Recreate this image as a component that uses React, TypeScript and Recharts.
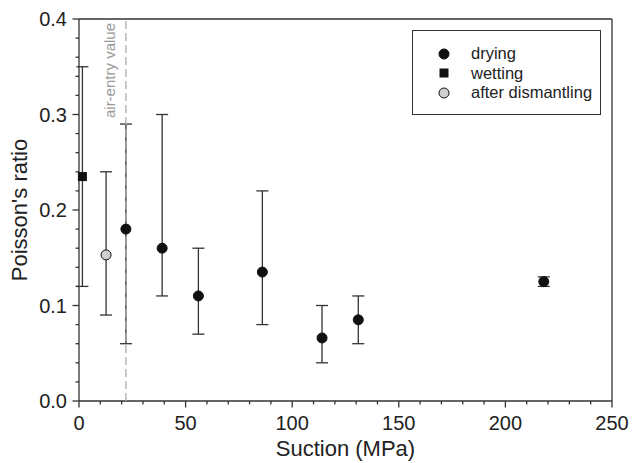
import React from 'react';
import {
  ScatterChart,
  Scatter,
  XAxis,
  YAxis,
  ErrorBar,
  ReferenceLine,
  Legend,
} from 'recharts';

const FONT = '"Liberation Sans", Arial, sans-serif';
const INK = '#222';
const AXIS = '#333';

// drying path
const dryingSuction = [22, 39, 56, 86, 114, 131, 218];
const dryingRatio = [0.18, 0.16, 0.11, 0.135, 0.066, 0.085, 0.125];
const dryingLow = [0.06, 0.11, 0.07, 0.08, 0.04, 0.06, 0.12];
const dryingHigh = [0.29, 0.3, 0.16, 0.22, 0.1, 0.11, 0.13];

// wetting
const wettingSuction = [1.6];
const wettingRatio = [0.235];
const wettingLow = [0.12];
const wettingHigh = [0.35];

// after dismantling
const dismantlingSuction = [12.7];
const dismantlingRatio = [0.153];
const dismantlingLow = [0.09];
const dismantlingHigh = [0.24];

// air-entry value marker (vertical dashed line)
const airEntrySuction = 22;
const airEntryRange = [0, 0.4];

const xTicks = Array.from({ length: 26 }, (_, i) => i * 10);
const yTicks = Array.from({ length: 21 }, (_, i) => i * 0.02);

const build = (xs: number[], ys: number[], lo: number[], hi: number[]) =>
  xs.map((x, i) => ({ x, y: ys[i], err: [ys[i] - lo[i], hi[i] - ys[i]] }));

const dryingData = build(dryingSuction, dryingRatio, dryingLow, dryingHigh);
const wettingData = build(wettingSuction, wettingRatio, wettingLow, wettingHigh);
const dismantlingData = build(dismantlingSuction, dismantlingRatio, dismantlingLow, dismantlingHigh);
const airEntryData = airEntryRange.map((y) => ({ x: airEntrySuction, y }));

// ticks every 10 / 0.02, labelled only on the majors
const XTick = (props: any) => {
  const { x, y, payload } = props;
  const major = Math.round(payload.value) % 50 === 0;
  return (
    <g>
      <line x1={x} x2={x} y1={y} y2={y + (major ? 6.5 : 3.5)} stroke={AXIS} strokeWidth={1.3} />
      {major && (
        <text x={x} y={y + 29} textAnchor="middle" fill={INK} fontSize={20} fontFamily={FONT}>
          {payload.value}
        </text>
      )}
    </g>
  );
};

const YTick = (props: any) => {
  const { x, y, payload } = props;
  const major = Math.round(payload.value * 100) % 10 === 0;
  return (
    <g>
      <line x1={x} x2={x - (major ? 6.5 : 3.5)} y1={y} y2={y} stroke={AXIS} strokeWidth={1.3} />
      {major && (
        <text x={x - 12} y={y + 7} textAnchor="end" fill={INK} fontSize={20} fontFamily={FONT}>
          {payload.value.toFixed(1)}
        </text>
      )}
    </g>
  );
};

const dot = (fill: string) => (p: any) => (
  <circle cx={p.cx} cy={p.cy} r={5} fill={fill} stroke="#111" strokeWidth={1} />
);
const square = (p: any) => <rect x={p.cx - 4.5} y={p.cy - 4.5} width={9} height={9} fill="#111" />;
const noShape = () => <g />;

const legendItems = [
  { label: 'drying', kind: 'circle', fill: '#111' },
  { label: 'wetting', kind: 'square', fill: '#111' },
  { label: 'after dismantling', kind: 'circle', fill: '#d0d0d0' },
];

const LegendBox = () => (
  <div
    style={{
      width: 187,
      height: 83,
      border: `1px solid ${AXIS}`,
      background: '#fff',
      fontFamily: FONT,
      fontSize: 16.5,
      color: INK,
      position: 'relative',
    }}
  >
    {legendItems.map((it, i) => (
      <div
        key={it.label}
        style={{ position: 'absolute', left: 0, top: 13 + i * 19.5, height: 19.5, display: 'flex', alignItems: 'center' }}
      >
        <svg width={14} height={14} style={{ marginLeft: 24 }}>
          {it.kind === 'circle' ? (
            <circle cx={7} cy={7} r={5} fill={it.fill} stroke="#111" />
          ) : (
            <rect x={2.5} y={2.5} width={9} height={9} fill={it.fill} />
          )}
        </svg>
        <span style={{ marginLeft: 20, lineHeight: '19.5px' }}>{it.label}</span>
      </div>
    ))}
  </div>
);

export default function App() {
  return (
    <div style={{ position: 'absolute', left: 0, top: 0, background: '#fff' }}>
      <ScatterChart width={632} height={463} margin={{ top: 19, right: 20, bottom: 0, left: 0 }}>
        <XAxis
          type="number"
          dataKey="x"
          domain={[0, 250]}
          ticks={xTicks}
          interval={0}
          tickSize={0}
          tickMargin={0}
          tickLine={false}
          tick={(p: any) => <XTick {...p} />}
          height={62}
          axisLine={{ stroke: AXIS, strokeWidth: 1.3 }}
          label={{
            content: (p: any) => (
              <text
                x={p.viewBox.x + p.viewBox.width / 2}
                y={p.viewBox.y + 55}
                textAnchor="middle"
                fill={INK}
                fontSize={22}
                fontFamily={FONT}
              >
                Suction (MPa)
              </text>
            ),
          }}
        />
        <YAxis
          type="number"
          dataKey="y"
          domain={[0, 0.4]}
          ticks={yTicks}
          interval={0}
          tickSize={0}
          tickMargin={0}
          tickLine={false}
          tick={(p: any) => <YTick {...p} />}
          width={79}
          axisLine={{ stroke: AXIS, strokeWidth: 1.3 }}
          label={{
            content: (p: any) => (
              <text
                transform={`translate(27, ${p.viewBox.y + p.viewBox.height / 2}) rotate(-90)`}
                textAnchor="middle"
                fill={INK}
                fontSize={22}
                fontFamily={FONT}
              >
                Poisson's ratio
              </text>
            ),
          }}
        />
        <ReferenceLine y={0.4} stroke={AXIS} strokeWidth={1.3} />
        <ReferenceLine x={250} stroke={AXIS} strokeWidth={1.3} />
        <ReferenceLine
          x={airEntrySuction}
          stroke="none"
          label={{
            content: (p: any) => (
              <text
                transform={`translate(${p.viewBox.x - 11}, ${p.viewBox.y + 4}) rotate(-90)`}
                textAnchor="end"
                fill="#999"
                fontSize={15}
                fontFamily={FONT}
              >
                air-entry value
              </text>
            ),
          }}
        />
        <Scatter
          name="air-entry"
          data={airEntryData}
          shape={noShape}
          line={{ stroke: '#aaa', strokeWidth: 1.3, strokeDasharray: '8 4' }}
          legendType="none"
          isAnimationActive={false}
        />
        <Scatter name="wetting" data={wettingData} shape={square} isAnimationActive={false}>
          <ErrorBar dataKey="err" direction="y" width={6} stroke={AXIS} strokeWidth={1.3} />
        </Scatter>
        <Scatter name="after dismantling" data={dismantlingData} shape={dot('#d0d0d0')} isAnimationActive={false}>
          <ErrorBar dataKey="err" direction="y" width={6} stroke={AXIS} strokeWidth={1.3} />
        </Scatter>
        <Scatter name="drying" data={dryingData} shape={dot('#111')} isAnimationActive={false}>
          <ErrorBar dataKey="err" direction="y" width={6} stroke={AXIS} strokeWidth={1.3} />
        </Scatter>
        <Legend
          layout="vertical"
          align="center"
          verticalAlign="middle"
          content={<LegendBox />}
          wrapperStyle={{ position: 'absolute', left: 412, top: 30, width: 'auto' }}
        />
      </ScatterChart>
    </div>
  );
}
